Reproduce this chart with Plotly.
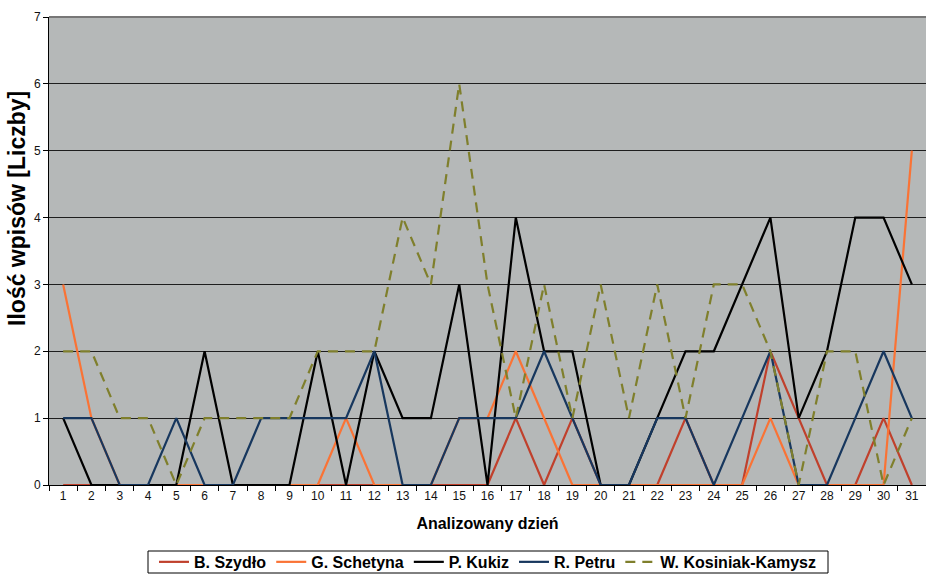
import plotly.graph_objects as go

# Days analysed (1..31)
days = [str(d) for d in range(1, 32)]

# Daily number of entries per candidate
szydlo = [0, 0, 0, 0, 0, 0, 0, 0, 0, 0, 0, 0, 0, 0, 0, 0, 1, 0, 1, 0,
          0, 0, 1, 0, 0, 2, 1, 0, 0, 1, 0]
schetyna = [3, 1, 0, 0, 0, 0, 0, 0, 0, 0, 1, 0, 0, 0, 1, 1, 2, 1, 0, 0,
            0, 0, 0, 0, 0, 1, 0, 0, 0, 0, 5]
kukiz = [1, 0, 0, 0, 0, 2, 0, 0, 0, 2, 0, 2, 1, 1, 3, 0, 4, 2, 2, 0,
         0, 1, 2, 2, 3, 4, 1, 2, 4, 4, 3]
petru = [1, 1, 0, 0, 1, 0, 0, 1, 1, 1, 1, 2, 0, 0, 1, 1, 1, 2, 1, 0,
         0, 1, 1, 0, 1, 2, 0, 0, 1, 2, 1]
kosiniak = [2, 2, 1, 1, 0, 1, 1, 1, 1, 2, 2, 2, 4, 3, 6, 3, 1, 3, 1, 3,
            1, 3, 1, 3, 3, 2, 0, 2, 2, 0, 1]

series = [
    ("B. Szydło", szydlo, "#C0402C", "solid"),
    ("G. Schetyna", schetyna, "#FA7335", "solid"),
    ("P. Kukiz", kukiz, "#000000", "solid"),
    ("R. Petru", petru, "#17375E", "solid"),
    ("W. Kosiniak-Kamysz", kosiniak, "#7F7F2C", "10px,7px"),
]

fig = go.Figure()
for name, vals, color, dash in series:
    fig.add_trace(go.Scatter(
        x=days, y=vals, name=name, mode="lines",
        line=dict(color=color, width=2.2, dash=dash),
    ))

font_family = "Liberation Sans, Arial, sans-serif"

fig.update_layout(
    width=926, height=574,
    margin=dict(l=49, r=0, t=17, b=89),
    paper_bgcolor="white",
    plot_bgcolor="#B5B8B8",
    font=dict(family=font_family, size=12, color="#111111"),
    showlegend=True,
    legend=dict(
        orientation="h", x=0.5, xanchor="center",
        yref="container", y=0.021, yanchor="middle",
        borderwidth=0, bgcolor="rgba(0,0,0,0)",
        font=dict(family=font_family, size=16, color="#000000", weight="bold"),
        tracegroupgap=0,
    ),
    xaxis=dict(
        type="category",
        range=[-0.5, 30.5],
        tickson="boundaries",
        ticks="outside", ticklen=5, tickcolor="#000000",
        showgrid=False,
        showline=True, linecolor="#000000", linewidth=1,
        automargin=False,
        tickfont=dict(size=12, color="#111111"),
        title=dict(text="Analizowany dzień",
                   font=dict(size=16, color="#000000", weight="bold"),
                   standoff=15),
    ),
    yaxis=dict(
        range=[0, 7], dtick=1, tick0=0,
        ticks="outside", ticklen=5, tickcolor="#000000",
        showgrid=True, gridcolor="#1E1E1E", gridwidth=1,
        showline=True, linecolor="#000000", linewidth=1,
        zeroline=False,
        automargin=False,
        tickfont=dict(size=12, color="#111111"),
    ),
)

# Vertical axis title
fig.add_annotation(
    text="Ilość wpisów [Liczby]", textangle=-90,
    xref="paper", yref="paper", x=-0.0365, y=0.592,
    xanchor="center", yanchor="middle", showarrow=False,
    font=dict(family=font_family, size=23, color="#000000", weight="bold"),
)

# Top border of the plotting area
fig.add_shape(type="line", xref="paper", yref="paper", x0=0, x1=1, y0=1, y1=1,
              line=dict(color="#777777", width=2))

# Legend frame
fig.add_shape(type="rect", xref="paper", yref="paper",
              x0=(148 - 49) / 877, x1=(828 - 49) / 877,
              y0=(485 - 573) / 468, y1=(485 - 551) / 468,
              line=dict(color="#000000", width=1), fillcolor="rgba(0,0,0,0)")

fig.write_html("out.html")
